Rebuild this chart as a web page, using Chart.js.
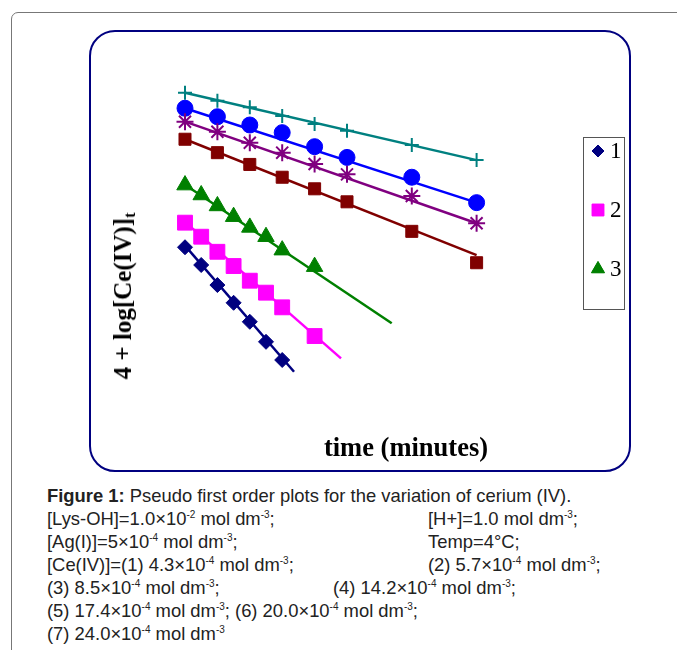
<!DOCTYPE html>
<html>
<head>
<meta charset="utf-8">
<script src="https://cdn.jsdelivr.net/npm/chart.js@4.4.0/dist/chart.umd.min.js"></script>
<style>
  body { margin: 0; background: #fff; width: 677px; height: 650px; overflow: hidden; position: relative; font-family: "Liberation Sans", Arial, sans-serif; }
  .outer { position: absolute; left: 11px; top: 12px; width: 720px; height: 700px; border: 1px solid #777; border-radius: 7px; }
  .inner { position: absolute; left: 89px; top: 30px; width: 538px; height: 438px; border: 2px solid #000080; border-radius: 26px; }
  #wrap { position: absolute; left: 0; top: 0; width: 677px; height: 480px; }
  .ytitle { position: absolute; left: 124px; top: 296px; transform: translate(-50%, -50%) rotate(-90deg); font: bold 25px "Liberation Serif", "Times New Roman", serif; white-space: nowrap; color: #000; }
  .ytitle sub { font-size: 16px; vertical-align: -4px; }
  .xtitle { position: absolute; left: 406px; top: 447px; transform: translate(-50%, -50%); font: bold 26.5px "Liberation Serif", "Times New Roman", serif; white-space: nowrap; }
  .cap { position: absolute; left: 47px; top: 484px; font-size: 18.4px; line-height: 23px; color: #222; }
  .cap div { position: relative; height: 23px; white-space: nowrap; }
  .cap span.r { position: absolute; left: 381px; }
  .cap span.m { position: absolute; left: 286px; }
  .cap sup { font-size: 10px; vertical-align: 7px; line-height: 0; }
</style>
</head>
<body>
<div class="outer"></div>
<div class="inner"></div>
<div id="wrap"><canvas id="lineChart"></canvas></div>
<div class="ytitle">4 + log[Ce(IV)]<sub>t</sub></div>
<div class="xtitle">time (minutes)</div>
<div class="cap">
  <div><b>Figure 1:</b> Pseudo first order plots for the variation of cerium (IV).</div>
  <div>[Lys-OH]=1.0×10<sup>-2</sup> mol dm<sup>-3</sup>;<span class="r">[H+]=1.0 mol dm<sup>-3</sup>;</span></div>
  <div>[Ag(I)]=5×10<sup>-4</sup> mol dm<sup>-3</sup>;<span class="r">Temp=4°C;</span></div>
  <div>[Ce(IV)]=(1) 4.3×10<sup>-4</sup> mol dm<sup>-3</sup>;<span class="r">(2) 5.7×10<sup>-4</sup> mol dm<sup>-3</sup>;</span></div>
  <div>(3) 8.5×10<sup>-4</sup> mol dm<sup>-3</sup>;<span class="m">(4) 14.2×10<sup>-4</sup> mol dm<sup>-3</sup>;</span></div>
  <div>(5) 17.4×10<sup>-4</sup> mol dm<sup>-3</sup>; (6) 20.0×10<sup>-4</sup> mol dm<sup>-3</sup>;</div>
  <div>(7) 24.0×10<sup>-4</sup> mol dm<sup>-3</sup></div>
</div>
<script>
const CHART = document.getElementById('lineChart')

// time values (minutes)
const time1 = [0, 1, 2, 3, 4, 5, 6]
const time23 = [0, 1, 2, 3, 4, 5, 6, 8]
const time47 = [0, 2, 4, 6, 8, 10, 14, 18]

// 4 + log[Ce(IV)]t for each run
const run1 = [0.632, 0.546, 0.449, 0.363, 0.271, 0.174, 0.086]
const run2 = [0.751, 0.683, 0.610, 0.541, 0.470, 0.412, 0.341, 0.202]
const run3 = [0.933, 0.885, 0.832, 0.780, 0.728, 0.683, 0.618, 0.538]
const run4 = [1.155, 1.090, 1.033, 0.971, 0.915, 0.852, 0.709, 0.557]
const run5 = [1.240, 1.191, 1.138, 1.090, 1.035, 0.985, 0.880, 0.748]
const run6 = [1.305, 1.264, 1.224, 1.187, 1.119, 1.067, 0.971, 0.848]
const run7 = [1.380, 1.341, 1.310, 1.267, 1.229, 1.196, 1.127, 1.054]

// fitted straight lines: [start, end]
const fitTime = [[0, 6.73], [0, 9.63], [0, 12.76], [0, 18], [0, 18], [0, 18], [0, 18]]
const fitValue = [[0.640, 0.029], [0.755, 0.094], [0.935, 0.264], [1.155, 0.594], [1.240, 0.748], [1.305, 0.848], [1.380, 1.054]]

const legendLabels = ['1', '2', '3']

const runs = [
  { x: time1, y: run1, color: '#000080', style: 'rectRot', r: 7.5, bw: 1 },
  { x: time23, y: run2, color: '#ff00ff', style: 'rect', r: 10.5, bw: 1 },
  { x: time23, y: run3, color: '#008000', style: 'triangle', r: 9.5, bw: 1 },
  { x: time47, y: run4, color: '#800000', style: 'rect', r: 8.5, bw: 1 },
  { x: time47, y: run5, color: '#800080', style: 'star', r: 8.5, bw: 2 },
  { x: time47, y: run6, color: '#0000ff', style: 'circle', r: 8, bw: 1 },
  { x: time47, y: run7, color: '#008080', style: 'cross', r: 7, bw: 2 }
]

const datasets = []
runs.forEach((s, i) => {
  datasets.push({
    label: String(i + 1),
    data: s.x.map((t, k) => ({ x: t, y: s.y[k] })),
    showLine: false,
    pointStyle: s.style,
    pointRadius: s.r,
    pointHoverRadius: s.r,
    backgroundColor: s.color,
    borderColor: s.color,
    pointBorderWidth: s.bw,
    order: 0
  })
  datasets.push({
    label: 'fit' + (i + 1),
    data: fitTime[i].map((t, k) => ({ x: t, y: fitValue[i][k] })),
    showLine: true,
    pointRadius: 0,
    borderColor: s.color,
    borderWidth: 2.5,
    order: 1
  })
})

const legendBox = {
  id: 'legendBox',
  afterDraw (chart) {
    const ctx = chart.ctx
    ctx.save()
    ctx.strokeStyle = '#555'
    ctx.lineWidth = 1
    ctx.strokeRect(583.5, 137.5, 41, 172)
    ctx.font = '23px "Liberation Serif", "Times New Roman", serif'
    ctx.textBaseline = 'middle'
    legendLabels.forEach((lab, i) => {
      const s = runs[i]
      const y = 151 + i * 59
      ctx.fillStyle = s.color
      ctx.strokeStyle = s.color
      Chart.helpers.drawPoint(ctx, { pointStyle: s.style, radius: s.r * 0.8, borderWidth: 1, rotation: 0 }, 598, y)
      ctx.fill()
      ctx.fillStyle = '#000'
      ctx.fillText(lab, 610, y + 1)
    })
    ctx.restore()
  }
}

new Chart(CHART, {
  type: 'scatter',
  data: { datasets },
  options: {
    responsive: true,
    maintainAspectRatio: false,
    animation: false,
    layout: { padding: { left: 152.6, right: 168, top: 68, bottom: 81.6 } },
    plugins: { legend: { display: false }, tooltip: { enabled: false } },
    scales: {
      x: { type: 'linear', min: -2, max: 20, display: false },
      y: { type: 'linear', min: -0.1, max: 1.5, display: false }
    },
    clip: false
  },
  plugins: [legendBox]
})
</script>
</body>
</html>
